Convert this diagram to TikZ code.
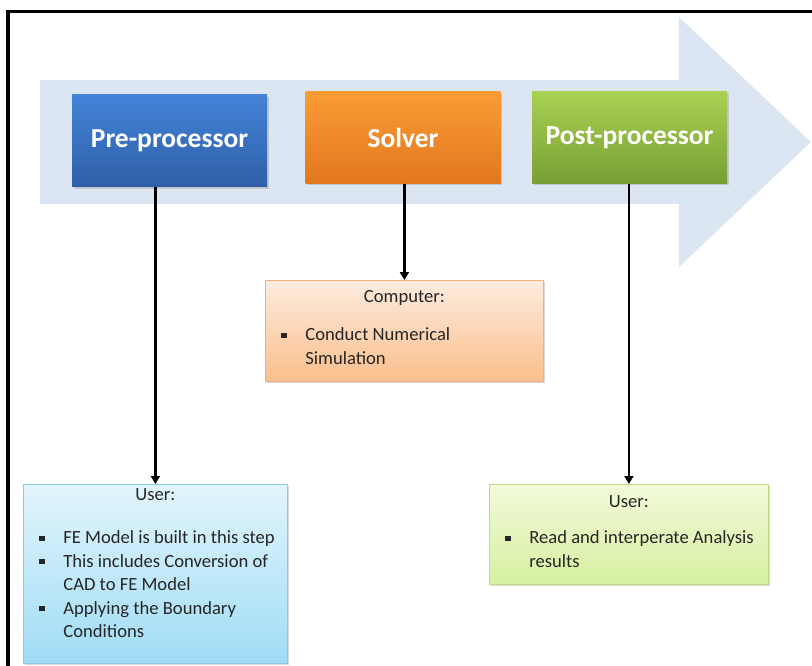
\documentclass[tikz,border=0pt]{standalone}
\usepackage{fontspec}
\setmainfont{Carlito}
\usetikzlibrary{arrows.meta,shadows}

\definecolor{arrowbg}{HTML}{DCE6F2}
\definecolor{txt}{HTML}{262626}
\definecolor{preA}{HTML}{4383D8}\definecolor{preB}{HTML}{2F5FA8}
\definecolor{solA}{HTML}{FA9C34}\definecolor{solB}{HTML}{E2771F}
\definecolor{postA}{HTML}{A9D152}\definecolor{postB}{HTML}{789F34}

\newcommand{\sqbullet}{\rule[3pt]{5.2pt}{5.2pt}}
\newcommand{\bitem}[1]{\par\noindent\hangindent=40pt\hangafter=1\hspace*{16pt}\makebox[24pt][l]{\sqbullet}#1}
% width, height, first strut, title, gap, items
\newcommand{\notebox}[6]{\parbox[t][#2][t]{#1}{\fontsize{18.6}{23.5}\selectfont\color{txt}%
  {\centering\rule{0pt}{#3}#4\par}\vspace{#5}\raggedright #6\par}}

\begin{document}
\begin{tikzpicture}[x=1pt,y=-1pt,
  stage/.style={minimum width=195pt,minimum height=92pt,inner sep=0pt,text=white,
    font=\fontsize{27.5}{30}\selectfont\bfseries,
    drop shadow={shadow xshift=1.5pt,shadow yshift=-2pt,opacity=.3}},
  note/.style={anchor=north west,inner sep=0pt,line width=.8pt,
    drop shadow={shadow xshift=1.5pt,shadow yshift=-2pt,opacity=.3}},
  conn/.style={line width=2.2pt,-{Triangle[length=8pt,width=9pt]}}]
\useasboundingbox (0,0) rectangle (812,666);

% big process arrow
\fill[arrowbg] (40,80) -- (679,80) -- (679,17) -- (811,142) -- (679,267) -- (679,204) -- (40,204) -- cycle;

\node[stage,top color=preA,bottom color=preB] (pre) at (169.5,141) {Pre-processor};
\node[stage,top color=solA,bottom color=solB] (solver) at (403,137.5) {Solver};
\node[stage,top color=postA,bottom color=postB] (post) at (629.5,137.5) {Post-processor};

\node[note,draw={rgb,255:red,240;green,176;blue,128},top color={rgb,255:red,253;green,236;blue,222},
  bottom color={rgb,255:red,250;green,190;blue,140}] (comp) at (265,280)
  {\notebox{278pt}{101pt}{22pt}{Computer:}{15pt}{\bitem{Conduct Numerical\newline Simulation}}};

\node[note,draw={rgb,255:red,140;green,200;blue,228},top color={rgb,255:red,226;green,245;blue,252},
  bottom color={rgb,255:red,160;green,220;blue,245}] (userA) at (23,484)
  {\notebox{264pt}{179pt}{16pt}{User:}{20pt}{\bitem{FE Model is built in this step}
   \bitem{This includes Conversion of\newline CAD to FE Model}\bitem{Applying the Boundary\newline Conditions}}};

\node[note,draw={rgb,255:red,190;green,220;blue,130},top color={rgb,255:red,242;green,250;blue,218},
  bottom color={rgb,255:red,214;green,240;blue,160}] (userB) at (489,484)
  {\notebox{279pt}{100pt}{23pt}{User:}{13pt}{\bitem{Read and interperate Analysis\newline results}}};

\draw[conn] (pre.south -| userA.north) -- (userA.north);
\draw[conn] (solver.south -| comp.north) -- (comp.north);
\draw[conn] (post.south -| userB.north) -- (userB.north);

% frame
\draw[line width=3.5pt] (8,666) -- (8,11.5) -- (812,11.5);
\end{tikzpicture}
\end{document}
